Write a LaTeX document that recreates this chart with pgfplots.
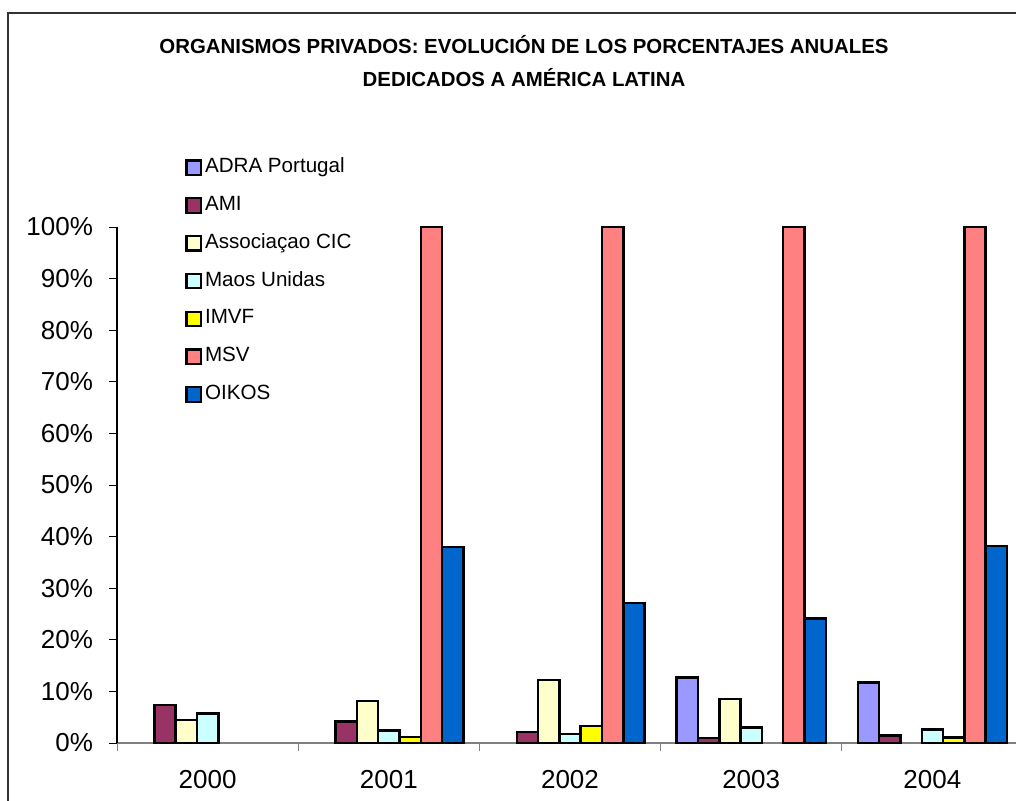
\documentclass[border=0pt]{standalone}
\usepackage{pgfplots}
\pgfplotsset{compat=1.18}
\usepackage{fontspec}
\setmainfont{Liberation Sans}
\definecolor{cADRA}{HTML}{9999FF}
\definecolor{cAMI}{HTML}{993366}
\definecolor{cCIC}{HTML}{FFFFCC}
\definecolor{cMAOS}{HTML}{CCFFFF}
\definecolor{cIMVF}{HTML}{FFFF00}
\definecolor{cMSV}{HTML}{FF8080}
\definecolor{cOIKOS}{HTML}{0066CC}
\begin{document}
\begin{tikzpicture}
\path[use as bounding box, clip] (0pt,0pt) rectangle (508pt,400pt);
\fill[white] (0pt,0pt) rectangle (508pt,400pt);
\draw[black!80, line width=1pt] (4pt,-20pt) -- (4pt,393.5pt) -- (530pt,393.5pt);
\node[font=\bfseries\fontsize{10.2}{16.5}\selectfont, align=center] at (262pt,369.5pt)
  {ORGANISMOS PRIVADOS: EVOLUCIÓN DE LOS PORCENTAJES ANUALES\\DEDICADOS A AMÉRICA LATINA};
\begin{axis}[
  at={(103.8pt,28.5pt)}, anchor=origin,
  scale only axis, width=453pt, height=258pt,
  xmin=-0.5, xmax=4.5, ymin=0, ymax=100,
  axis x line*=bottom, axis y line*=left,
  x axis line style={gray, line width=0.8pt},
  y axis line style={black, line width=0.6pt},
  ybar=0pt, bar width=10.65pt,
  xtick={-0.5,0.5,...,4.5},
  x tick label as interval,
  xticklabels={2000,2001,2002,2003,2004},
  ytick={0,10,...,100},
  yticklabel={\pgfmathprintnumber{\tick}\%},
  /pgf/number format/assume math mode=true,
  tick align=outside, major tick length=4pt,
  tick style={black, line width=0.5pt},
  x tick style={gray},
  ticklabel style={font=\fontsize{13}{13}\selectfont},
  yticklabel style={xshift=-4.5pt},
  xticklabel style={yshift=-6pt},
  clip=false,
  every axis plot/.append style={draw=black, line width=1.25pt},
  legend style={at={(0.0685,1.143)}, anchor=north west, draw=none, fill=none,
    font=\fontsize{10.3}{12}\selectfont, row sep=8.9pt,
    nodes={inner xsep=1.5pt, inner ysep=0pt, text height=7.5pt, text depth=2.5pt},
    cells={anchor=west}},
  legend image code/.code={\draw[#1, line width=1.1pt] (0pt,-3.6pt) rectangle (7.2pt,3.6pt);},
]
\addplot[fill=cADRA] coordinates {(3,12.7) (4,11.7)};
\addplot[fill=cAMI] coordinates {(0,7.4) (1,4.2) (2,2.1) (3,1.0) (4,1.5)};
\addplot[fill=cCIC] coordinates {(0,4.5) (1,8.1) (2,12.2) (3,8.5)};
\addplot[fill=cMAOS] coordinates {(0,5.7) (1,2.4) (2,1.7) (3,3.0) (4,2.6)};
\addplot[fill=cIMVF] coordinates {(1,1.2) (2,3.3) (4,1.1)};
\addplot[fill=cMSV] coordinates {(1,100) (2,100) (3,100) (4,100)};
\addplot[fill=cOIKOS] coordinates {(1,38.0) (2,27.1) (3,24.1) (4,38.2)};
\legend{ADRA Portugal,AMI,Associaçao CIC,Maos Unidas,IMVF,MSV,OIKOS}
\end{axis}
\end{tikzpicture}
\end{document}
